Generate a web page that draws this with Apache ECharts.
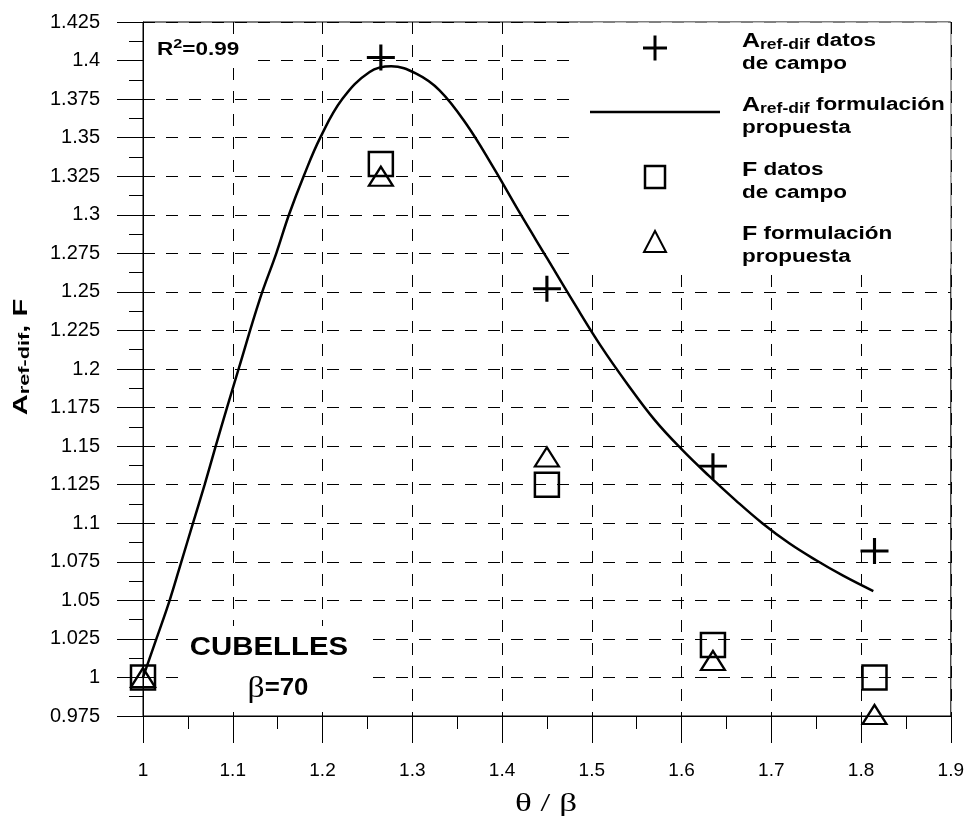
<!DOCTYPE html>
<html>
<head>
<meta charset="utf-8">
<script src="https://cdn.jsdelivr.net/npm/echarts@6/dist/echarts.min.js"></script>
<style>
  html, body { margin: 0; padding: 0; background: #fff; }
  #chart { width: 967px; height: 818px; }
</style>
</head>
<body>
<div id="chart"></div>
<script>
// Field measurements (theta / beta ratio)
const campoX = [1.265, 1.45, 1.635, 1.815];
const arefCampo = [1.402, 1.252, 1.137, 1.082];

const fX = [1.0, 1.265, 1.45, 1.635, 1.815];
const fCampo = [1.0, 1.333, 1.125, 1.021, 1.0];
const fFormulacion = [1.0, 1.325, 1.143, 1.011, 0.976];

// Proposed A_ref-dif formulation curve
const curveX = [1.0, 1.0149, 1.0297, 1.0427, 1.0557, 1.0687, 1.081, 1.0936, 1.1065,
  1.13, 1.1485, 1.1626, 1.179, 1.1975, 1.222, 1.2525, 1.2766, 1.3044, 1.3304,
  1.36, 1.39, 1.42, 1.45, 1.48, 1.51, 1.54, 1.57, 1.60, 1.63,
  1.66, 1.69, 1.72, 1.75, 1.78, 1.8137];
const curveY = [1.0, 1.025, 1.05, 1.075, 1.1, 1.125, 1.15, 1.175, 1.2,
  1.245, 1.275, 1.3, 1.325, 1.35, 1.375, 1.3926, 1.3963, 1.3915, 1.3807,
  1.359, 1.331, 1.301, 1.272, 1.243, 1.215, 1.19, 1.167, 1.148, 1.131,
  1.115, 1.1, 1.087, 1.076, 1.066, 1.056];

const xTicks = { min: 1, max: 1.9, step: 0.1 };
const yTicks = { min: 0.975, max: 1.425, step: 0.025 };

const seriesNames = [
  'Aref-dif datos de campo',
  'Aref-dif formulación propuesta',
  'F datos de campo',
  'F formulación propuesta'
];
const legendLines = [
  ['{A|A}{s|ref-dif}{b| datos}', '{b|de campo}'],
  ['{A|A}{s|ref-dif}{b| formulación}', '{b|propuesta}'],
  ['{A|F}{b| datos}', '{b|de campo}'],
  ['{A|F}{b| formulación}', '{b|propuesta}']
];

const zip = (xs, ys) => xs.map((x, i) => [x, ys[i]]);

const SANS = "'Liberation Sans', Arial, sans-serif";
const SERIF = "'Liberation Serif', 'Times New Roman', serif";

const fmt = v => String(parseFloat(v.toFixed(3)));
const dashed = { type: [12, 11], color: '#000', width: 1 };

const richLegend = {
  A: { fontSize: 20, fontWeight: 'bold', fontFamily: SANS, lineHeight: 23, fill: '#000' },
  s: { fontSize: 14, fontWeight: 'bold', fontFamily: SANS, lineHeight: 15, padding: [8, 0, 0, 0], fill: '#000' },
  b: { fontSize: 18, fontWeight: 'bold', fontFamily: SANS, lineHeight: 23, fill: '#000' }
};

// Legend: icon column centred at x = 655, text column starting at x = 742
const legendRowY = [47, 111, 176, 240];
const legendIcons = [
  { type: 'group', children: [
    { type: 'line', z: 7, shape: { x1: 643, y1: 0, x2: 667, y2: 0 }, style: { stroke: '#000', lineWidth: 3 } },
    { type: 'line', z: 7, shape: { x1: 655, y1: -12.5, x2: 655, y2: 12.5 }, style: { stroke: '#000', lineWidth: 3 } }
  ] },
  { type: 'line', shape: { x1: 590, y1: 0, x2: 720, y2: 0 }, style: { stroke: '#000', lineWidth: 2.5 } },
  { type: 'rect', shape: { x: 645, y: -11, width: 20, height: 22 }, style: { fill: 'none', stroke: '#000', lineWidth: 2.5 } },
  { type: 'polygon', shape: { points: [[644, 11], [666, 11], [655, -10]] }, style: { fill: 'none', stroke: '#000', lineWidth: 2 } }
];

const legendGraphics = [];
legendLines.forEach((lines, i) => {
  const base = legendRowY[i];
  const icon = Object.assign({}, legendIcons[i], { y: base + 1, z: 7 });
  legendGraphics.push(icon);
  legendGraphics.push({
    type: 'text', z: 7, x: 742, y: base - 17, scaleX: 1.25,
    style: { text: lines.join('\n'), align: 'left', verticalAlign: 'top', rich: richLegend }
  });
});

const chart = echarts.init(document.getElementById('chart'), null, { renderer: 'canvas' });

chart.setOption({
  animation: false,
  backgroundColor: '#fff',
  grid: {
    left: 143, top: 22, right: 16, bottom: 102,
    show: true, borderColor: '#000', borderWidth: 1, backgroundColor: 'transparent'
  },
  xAxis: {
    type: 'value',
    min: xTicks.min, max: xTicks.max, interval: xTicks.step,
    axisLine: { show: true, lineStyle: { color: '#000', width: 1 } },
    axisTick: { show: true, length: 27, lineStyle: { color: '#000' } },
    minorTick: { show: true, splitNumber: 2, length: 13, lineStyle: { color: '#000' } },
    splitLine: { show: true, lineStyle: dashed },
    axisLabel: { margin: 45, fontSize: 19, color: '#000', fontFamily: SANS, formatter: fmt }
  },
  yAxis: {
    type: 'value',
    min: yTicks.min, max: yTicks.max, interval: yTicks.step,
    axisLine: { show: true, lineStyle: { color: '#000', width: 1 } },
    axisTick: { show: true, length: 26, lineStyle: { color: '#000' } },
    minorTick: { show: true, splitNumber: 2, length: 14, lineStyle: { color: '#000' } },
    splitLine: { show: true, lineStyle: dashed },
    axisLabel: { margin: 43, fontSize: 20, color: '#000', fontFamily: SANS, formatter: fmt }
  },
  graphic: [
    // white panels behind the legend and the annotations
    { type: 'rect', z: 1, shape: { x: 578, y: 22.5, width: 372.5, height: 246 }, style: { fill: '#fff' } },
    { type: 'rect', z: 1, shape: { x: 144, y: 34, width: 104, height: 28 }, style: { fill: '#fff' } },
    { type: 'rect', z: 1, shape: { x: 185, y: 626, width: 180, height: 82 }, style: { fill: '#fff' } },
    ...legendGraphics,
    {
      type: 'text', z: 6, x: 157, y: 50, scaleX: 1.25,
      style: {
        text: '{r|R}{p|2}{r|=0.99}',
        verticalAlign: 'middle', align: 'left',
        rich: {
          r: { fontSize: 18, fontWeight: 'bold', fontFamily: SANS, lineHeight: 22, fill: '#000' },
          p: { fontSize: 13, fontWeight: 'bold', fontFamily: SANS, lineHeight: 14, padding: [0, 0, 12, 0], fill: '#000' }
        }
      }
    },
    {
      type: 'text', z: 6, x: 269, y: 648, scaleX: 1.13,
      style: { text: 'CUBELLES', font: "bold 26px 'Liberation Sans', Arial, sans-serif", fill: '#000', align: 'center', verticalAlign: 'middle' }
    },
    {
      type: 'text', z: 6, x: 278, y: 689, scaleX: 1.12,
      style: {
        text: '{g|β}{e|=70}',
        align: 'center', verticalAlign: 'middle',
        rich: {
          g: { fontSize: 30, fontFamily: SERIF, lineHeight: 32, fill: '#000' },
          e: { fontSize: 23, fontWeight: 'bold', fontFamily: SANS, lineHeight: 32, fill: '#000' }
        }
      }
    },
    {
      type: 'text', z: 6, x: 21, y: 357, rotation: Math.PI / 2, scaleX: 1.45,
      style: {
        text: '{A|A}{s|ref-dif}{A|, F}',
        align: 'center', verticalAlign: 'middle',
        rich: {
          A: { fontSize: 20, fontWeight: 'bold', fontFamily: SANS, lineHeight: 24, fill: '#000' },
          s: { fontSize: 15, fontWeight: 'bold', fontFamily: SANS, lineHeight: 16, padding: [8, 0, 0, 0], fill: '#000' }
        }
      }
    },
    {
      type: 'text', z: 6, x: 546, y: 804, scaleX: 1.35,
      style: { text: 'θ / β', font: "26px 'Liberation Serif', 'Times New Roman', serif", fill: '#000', align: 'center', verticalAlign: 'middle' }
    }
  ],
  series: [
    {
      name: seriesNames[0],
      type: 'scatter',
      data: zip(campoX, arefCampo),
      symbol: 'path://M0,-13L0,13M-14,0L14,0',
      symbolSize: [28, 26],
      itemStyle: { color: 'rgba(0,0,0,0)', borderColor: '#000', borderWidth: 3, opacity: 1 },
      z: 3
    },
    {
      name: seriesNames[1],
      type: 'line',
      data: zip(curveX, curveY),
      showSymbol: false,
      symbol: 'none',
      smooth: 0.4,
      lineStyle: { color: '#000', width: 2.5 },
      itemStyle: { color: '#000' },
      z: 2
    },
    {
      name: seriesNames[2],
      type: 'scatter',
      data: zip(fX, fCampo),
      symbol: 'rect',
      symbolSize: 24,
      itemStyle: { color: 'rgba(0,0,0,0)', borderColor: '#000', borderWidth: 2.5, opacity: 1 },
      z: 3
    },
    {
      name: seriesNames[3],
      type: 'scatter',
      data: zip(fX, fFormulacion),
      symbol: 'triangle',
      symbolSize: [24, 19],
      itemStyle: { color: 'rgba(0,0,0,0)', borderColor: '#000', borderWidth: 2.2, opacity: 1 },
      z: 3
    }
  ]
});
</script>
</body>
</html>
